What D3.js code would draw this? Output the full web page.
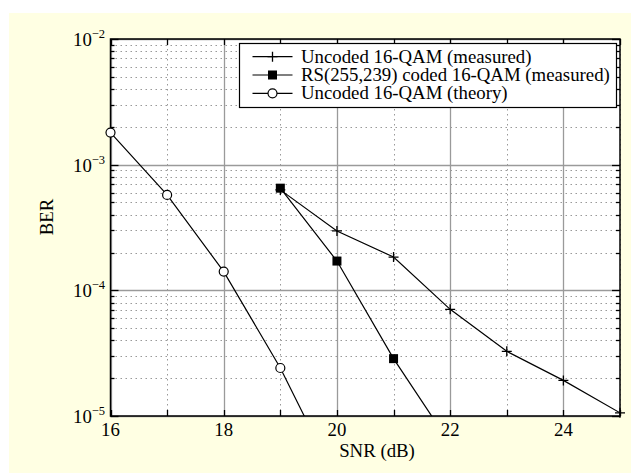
<!DOCTYPE html>
<html>
<head>
<meta charset="utf-8">
<script src="https://cdn.jsdelivr.net/npm/d3@7"></script>
<style>
  body { margin: 0; background: #fff; }
  svg text { font-family: "Liberation Serif", "Times New Roman", serif; fill: #000; }
</style>
</head>
<body>
<div id="chart"></div>
<script>
// BER vs SNR data
var snrUncoded = [19, 20, 21, 22, 23, 24, 25];
var berUncoded = [6.3e-4, 2.97e-4, 1.84e-4, 7.06e-5, 3.27e-5, 1.92e-5, 1.06e-5];

var snrCoded = [19, 20, 21, 22];
var berCoded = [6.5e-4, 1.71e-4, 2.86e-5, 6e-6];

var snrTheory = [16, 17, 18, 19, 20];
var berTheory = [1.8e-3, 5.74e-4, 1.41e-4, 2.41e-5, 3e-6];

var xTicks = [16, 18, 20, 22, 24];
var yDecades = [-5, -4, -3, -2];

var legendLabels = [
  "Uncoded 16-QAM (measured)",
  "RS(255,239) coded 16-QAM (measured)",
  "Uncoded 16-QAM (theory)"
];

var W = 635, H = 473;
var m = { left: 110.5, right: 620, top: 39, bottom: 416 };

var svg = d3.select("#chart").append("svg")
    .attr("width", W)
    .attr("height", H);

// cream figure background
svg.append("rect")
    .attr("x", 9).attr("y", 13)
    .attr("width", 622).attr("height", 460)
    .attr("fill", "#ffffe3");

var x = d3.scaleLinear().domain([16, 25]).range([m.left, m.right]);
var y = d3.scaleLog().domain([1e-5, 1e-2]).range([m.bottom, m.top]);

// plot area
svg.append("rect")
    .attr("x", m.left).attr("y", m.top)
    .attr("width", m.right - m.left).attr("height", m.bottom - m.top)
    .attr("fill", "#fff");

svg.append("clipPath").attr("id", "clip")
    .append("rect")
    .attr("x", m.left).attr("y", m.top)
    .attr("width", m.right - m.left).attr("height", m.bottom - m.top);

var grid = svg.append("g");

// minor y values 2..9 per decade
var minorY = [];
yDecades.slice(0, -1).forEach(function(e) {
  for (var k = 2; k <= 9; k++) minorY.push(k * Math.pow(10, e));
});
var majorY = yDecades.map(function(e) { return Math.pow(10, e); });
var allX = d3.range(16, 26);
var minorX = allX.filter(function(v) { return v % 2 === 1; });

function py(v) { return Math.round(y(v)) + 0.5; }
function px(v) { return Math.round(x(v)) + 0.5; }

// dotted minor grid
grid.selectAll(".my").data(minorY).enter().append("line")
    .attr("x1", m.left).attr("x2", m.right)
    .attr("y1", py).attr("y2", py)
    .attr("stroke", "#999").attr("stroke-dasharray", "1.5,3.5");

grid.selectAll(".mx").data(minorX).enter().append("line")
    .attr("x1", px).attr("x2", px)
    .attr("y1", m.top).attr("y2", m.bottom)
    .attr("stroke", "#999").attr("stroke-dasharray", "1.5,3.5");

// solid major grid
grid.selectAll(".gy").data(majorY).enter().append("line")
    .attr("x1", m.left).attr("x2", m.right)
    .attr("y1", py).attr("y2", py)
    .attr("stroke", "#9a9a9a").attr("stroke-width", 1.3);

grid.selectAll(".gx").data(xTicks).enter().append("line")
    .attr("x1", px).attr("x2", px)
    .attr("y1", m.top).attr("y2", m.bottom)
    .attr("stroke", "#9a9a9a").attr("stroke-width", 1.3);

// tick marks on all four sides
var ticks = svg.append("g").attr("stroke", "#000").attr("stroke-width", 1.3);
allX.forEach(function(v) {
  ticks.append("line").attr("x1", px(v)).attr("x2", px(v)).attr("y1", m.bottom).attr("y2", m.bottom - 6);
  ticks.append("line").attr("x1", px(v)).attr("x2", px(v)).attr("y1", m.top).attr("y2", m.top + 6);
});
majorY.concat(minorY).forEach(function(v) {
  var len = majorY.indexOf(v) >= 0 ? 8 : 4;
  ticks.append("line").attr("x1", m.left).attr("x2", m.left + len).attr("y1", py(v)).attr("y2", py(v));
  ticks.append("line").attr("x1", m.right).attr("x2", m.right - len).attr("y1", py(v)).attr("y2", py(v));
});

// frame
svg.append("rect")
    .attr("x", m.left).attr("y", m.top)
    .attr("width", m.right - m.left).attr("height", m.bottom - m.top)
    .attr("fill", "none").attr("stroke", "#000").attr("stroke-width", 1.5);

// x tick labels
svg.selectAll(".xl").data(xTicks).enter().append("text")
    .attr("x", function(d) { return x(d); })
    .attr("y", 436)
    .attr("text-anchor", "middle")
    .attr("font-size", 18.8)
    .text(function(d) { return d; });

// y tick labels 10^e
var yl = svg.selectAll(".yl").data(yDecades).enter().append("text")
    .attr("x", 73)
    .attr("y", function(d) { return y(Math.pow(10, d)) + 7; })
    .attr("font-size", 18.8);
yl.append("tspan").text("10");
yl.append("tspan")
    .attr("font-size", 12.5)
    .attr("dy", -8)
    .text(function(d) { return "\u2212" + Math.abs(d); });

// axis titles
svg.append("text")
    .attr("x", 377).attr("y", 457)
    .attr("text-anchor", "middle")
    .attr("font-size", 18.8)
    .text("SNR (dB)");

svg.append("text")
    .attr("transform", "translate(53,217) rotate(-90)")
    .attr("text-anchor", "middle")
    .attr("font-size", 18.8)
    .text("BER");

// series
var line = d3.line()
    .x(function(d) { return x(d[0]); })
    .y(function(d) { return y(d[1]); });

var plot = svg.append("g").attr("clip-path", "url(#clip)");

var uncoded = d3.zip(snrUncoded, berUncoded);
var coded = d3.zip(snrCoded, berCoded);
var theory = d3.zip(snrTheory, berTheory);

[uncoded, coded, theory].forEach(function(s) {
  plot.append("path").datum(s)
      .attr("d", line)
      .attr("fill", "none")
      .attr("stroke", "#000")
      .attr("stroke-width", 1.2);
});

function drawPlus(g, cx, cy) {
  g.append("path")
      .attr("d", "M" + (cx - 5) + "," + cy + "H" + (cx + 5) + "M" + cx + "," + (cy - 5) + "V" + (cy + 5))
      .attr("stroke", "#000").attr("stroke-width", 1.3).attr("fill", "none");
}
function drawSquare(g, cx, cy) {
  g.append("rect")
      .attr("x", cx - 4.5).attr("y", cy - 4.5)
      .attr("width", 9).attr("height", 9)
      .attr("fill", "#000");
}
function drawCircle(g, cx, cy) {
  g.append("circle")
      .attr("cx", cx).attr("cy", cy).attr("r", 4.5)
      .attr("fill", "#fff").attr("stroke", "#000").attr("stroke-width", 1.2);
}

var markers = svg.append("g");
uncoded.forEach(function(d) { if (d[1] >= 1e-5) drawPlus(markers, x(d[0]), y(d[1])); });
coded.forEach(function(d) { if (d[1] >= 1e-5) drawSquare(markers, x(d[0]), y(d[1])); });
theory.forEach(function(d) { if (d[1] >= 1e-5) drawCircle(markers, x(d[0]), y(d[1])); });

// legend
var lg = svg.append("g");
lg.append("rect")
    .attr("x", 239.5).attr("y", 43.5)
    .attr("width", 377).attr("height", 64)
    .attr("fill", "#fff").attr("stroke", "#000").attr("stroke-width", 1.2);

var drawers = [drawPlus, drawSquare, drawCircle];
legendLabels.forEach(function(lab, i) {
  var ly = 56.7 + i * 18.3;
  lg.append("line")
      .attr("x1", 252.5).attr("x2", 292.5)
      .attr("y1", ly).attr("y2", ly)
      .attr("stroke", "#000").attr("stroke-width", 1.2);
  drawers[i](lg, 272.5, ly);
  lg.append("text")
      .attr("x", 301).attr("y", ly + 6)
      .attr("font-size", 18.8)
      .text(lab);
});
</script>
</body>
</html>
